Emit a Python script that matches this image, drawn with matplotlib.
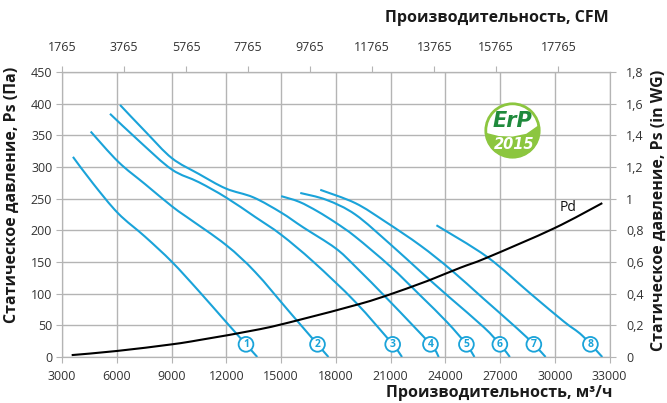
import matplotlib
matplotlib.use("Agg")
import matplotlib.pyplot as plt
import numpy as np
from matplotlib.patches import Circle, Polygon, PathPatch
from matplotlib.path import Path

plt.rcParams["font.family"] = ["Open Sans", "DejaVu Sans"]

# axes ticks
flow_ticks = [3000, 6000, 9000, 12000, 15000, 18000, 21000, 24000, 27000, 30000, 33000]
ps_ticks = [0, 50, 100, 150, 200, 250, 300, 350, 400, 450]
cfm_ticks = [1765, 3765, 5765, 7765, 9765, 11765, 13765, 15765, 17765]
wg_ticks = [0, 0.2, 0.4, 0.6, 0.8, 1.0, 1.2, 1.4, 1.6, 1.8]
wg_labels = ["0", "0,2", "0,4", "0,6", "0,8", "1", "1,2", "1,4", "1,6", "1,8"]

# fan curves, flow in m3/h, static pressure in Pa
fan1_q = [3600, 4700, 6070, 7550, 9030, 10500, 12000, 13700]
fan1_ps = [316, 274, 227, 190, 150, 104, 55, 0]
fan2_q = [4570, 6090, 7550, 9020, 9840, 11980, 13590, 15500, 17600]
fan2_ps = [356, 308, 273, 238, 221, 177, 134, 70, 0]
fan3_q = [5630, 7300, 9020, 10500, 11980, 13590, 15010, 16785, 19070, 21120, 21630]
fan3_ps = [384, 339, 296, 276, 252, 221, 193, 150, 87, 20, 0]
fan4_q = [6180, 7600, 9020, 10500, 11980, 13490, 15010, 16200, 17975, 19070, 20990, 23190, 23640]
fan4_ps = [398, 355, 314, 289, 266, 252, 228, 205, 172, 143, 87, 20, 0]
fan5_q = [15010, 16000, 17000, 18000, 19070, 20990, 22638, 24100, 25160, 25600]
fan5_ps = [254, 245, 230, 212, 190, 143, 97, 55, 20, 0]
fan6_q = [16055, 17500, 19070, 20990, 22638, 24200, 26113, 27025, 27540]
fan6_ps = [259, 248, 225, 178, 135, 95, 47, 19, 0]
fan7_q = [17150, 19070, 20700, 22638, 24300, 26100, 27942, 28855, 29500]
fan7_ps = [264, 243, 214, 176, 138, 92, 45, 20, 0]
fan8_q = [23516, 26297, 28672, 30498, 31500, 32605]
fan8_ps = [208, 158, 100, 56, 34, 0]

# dynamic pressure
pd_q = [3530, 6000, 9020, 10570, 13860, 16055, 19346, 20990, 22638, 23366, 24830, 26297, 29950, 32605]
pd_ps = [3, 9.5, 20, 27, 44, 59, 84, 99, 116, 124, 141, 157, 203, 243]

fans = [(fan1_q, fan1_ps), (fan2_q, fan2_ps), (fan3_q, fan3_ps), (fan4_q, fan4_ps),
        (fan5_q, fan5_ps), (fan6_q, fan6_ps), (fan7_q, fan7_ps), (fan8_q, fan8_ps)]

M3H_PER_CFM = 3000 / 1765

blue = "#1aa3d9"
grid_c = "#b4b4b4"
txt_c = "#333333"


def smooth_line(ax, q, ps, **kw):
    # catmull-rom through the read points, drawn as bezier path
    pts = np.column_stack([q, ps]).astype(float)
    verts = [pts[0]]
    codes = [Path.MOVETO]
    n = len(pts)
    for i in range(n - 1):
        p0 = pts[i - 1] if i > 0 else pts[i]
        p1, p2 = pts[i], pts[i + 1]
        p3 = pts[i + 2] if i + 2 < n else pts[i + 1]
        verts += [p1 + (p2 - p0) / 6, p2 - (p3 - p1) / 6, p2]
        codes += [Path.CURVE4] * 3
    ax.add_patch(PathPatch(Path(verts, codes), fc="none", capstyle="butt", **kw))


fig = plt.figure(figsize=(6.67, 4.03), dpi=100)
ax = fig.add_axes([62 / 667, 46 / 403, 547.5 / 667, 285 / 403])
ax.set_xlim(3000, 33000)
ax.set_ylim(0, 450)
ax.set_xticks(flow_ticks)
ax.set_yticks(ps_ticks)
ax.grid(True, color=grid_c, lw=1.0)
ax.set_axisbelow(True)
for s in ax.spines.values():
    s.set_color(grid_c)
ax.tick_params(colors=grid_c, labelcolor=txt_c, labelsize=9, length=4)
ax.tick_params(axis="x", pad=5)
ax.tick_params(axis="y", pad=3)

for i, (q, ps) in enumerate(fans):
    smooth_line(ax, q, ps, ec=blue, lw=1.5, zorder=3)
    xl = np.interp(20, ps[::-1], q[::-1])
    ax.text(xl, 20, str(i + 1), color=blue, fontsize=7.5, fontweight="bold",
            ha="center", va="center", zorder=5,
            bbox=dict(boxstyle="circle,pad=0.18", fc="white", ec=blue, lw=1.3))

smooth_line(ax, pd_q, pd_ps, ec="black", lw=1.5, zorder=4)
ax.annotate("Pd", xy=(pd_q[-1], pd_ps[-1]), xytext=(-25, -3), textcoords="offset points",
            ha="center", va="center", fontsize=10, color="#111111")

ax2 = ax.twinx()
ax2.set_ylim(0, 1.8)
ax2.set_yticks(wg_ticks)
ax2.set_yticklabels(wg_labels)
for s in ax2.spines.values():
    s.set_color(grid_c)
ax2.tick_params(colors=grid_c, labelcolor=txt_c, labelsize=9, length=4, pad=8)

top = ax.secondary_xaxis("top", functions=(lambda q: q / M3H_PER_CFM, lambda c: c * M3H_PER_CFM))
top.set_xticks(cfm_ticks)
top.spines["top"].set_color(grid_c)
top.tick_params(colors=grid_c, labelcolor=txt_c, labelsize=9, length=4, pad=9)

lab = dict(fontsize=11.5, fontweight="bold", color="#1a1a1a")
fig.text(612 / 667, 1 - 393 / 403, "Производительность, м³/ч", ha="right", va="center", **lab)
fig.text(609 / 667, 1 - 18 / 403, "Производительность, CFM", ha="right", va="center", **lab)
fig.text(12 / 667, 1 - 195 / 403, "Статическое давление, Ps (Па)", rotation=90,
         ha="center", va="center", **lab)
fig.text(659 / 667, 1 - 210 / 403, "Статическое давление, Ps (in WG)", rotation=90,
         ha="center", va="center", **lab)

# ErP 2015 badge
lg = fig.add_axes([482.5 / 667, (403 - 160.5) / 403, 60 / 667, 60 / 403])
lg.set_xlim(-1.09, 1.09)
lg.set_ylim(-1.09, 1.09)
lg.set_aspect("equal")
lg.axis("off")
lime = "#8cc63f"
disc = Circle((0, 0), 1, fc="white", ec="none")
lg.add_patch(disc)
leaf = Polygon([(-1.1, -0.05), (-0.5, -0.2), (0, -0.22), (0.5, -0.12), (1.1, 0.3),
                (1.1, -1.1), (-1.1, -1.1)], fc=lime, ec="none")
lg.add_patch(leaf)
leaf.set_clip_path(disc)
lg.add_patch(Circle((0, 0), 0.97, fc="none", ec=lime, lw=2))
lg.text(0.0, 0.36, "ErP", color="#1f8a3c", fontsize=15, fontweight="bold", style="italic",
        family=["Liberation Sans Narrow", "DejaVu Sans"], ha="center", va="center")
lg.text(0.05, -0.52, "2015", color="white", fontsize=10.5, fontweight="bold", style="italic",
        family=["Liberation Sans Narrow", "DejaVu Sans"], ha="center", va="center")

fig.savefig("out.png", dpi=100)
